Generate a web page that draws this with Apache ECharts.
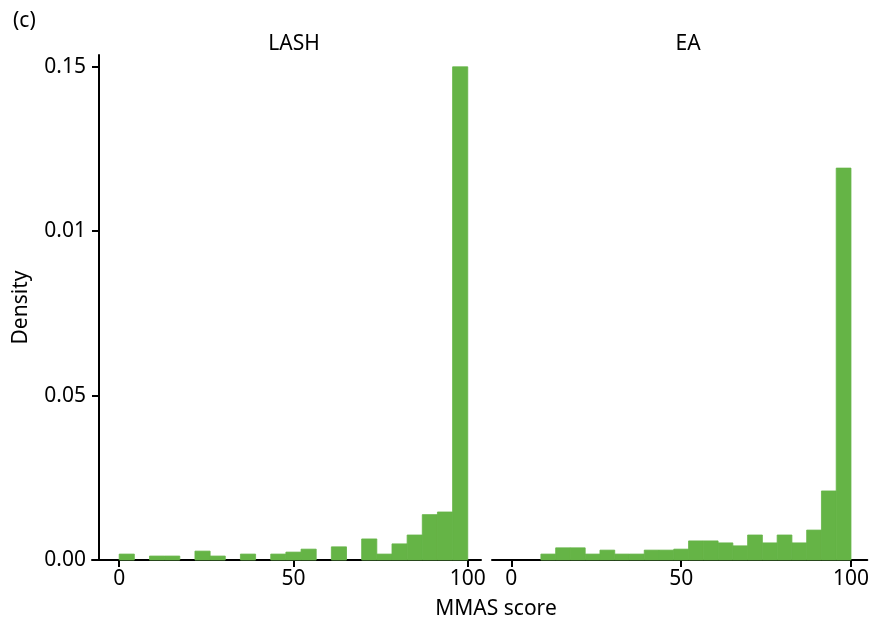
<!DOCTYPE html>
<html>
<head>
<meta charset="utf-8">
<script src="https://cdn.jsdelivr.net/npm/echarts@6/dist/echarts.min.js"></script>
<style>
  html, body { margin: 0; padding: 0; background: #fff; }
  #chart { width: 872px; height: 626px; }
</style>
</head>
<body>
<div id="chart"></div>
<script>
// histogram bins: 23 bins of equal width across 0-100
const binCount = 23;
const binWidth = 100 / binCount;

// density per bin
const lashDensity = [0.0018, 0, 0.0012, 0.0012, 0, 0.0027, 0.0012, 0, 0.0018, 0, 0.0018, 0.0024,
  0.0033, 0, 0.0040, 0, 0.0064, 0.0018, 0.0049, 0.0076, 0.0138, 0.0146, 0.150];
const eaDensity = [0, 0, 0.0018, 0.0037, 0.0037, 0.0018, 0.0030, 0.0018, 0.0018, 0.0030, 0.0030, 0.0033,
  0.0058, 0.0058, 0.0052, 0.0043, 0.0076, 0.0052, 0.0076, 0.0052, 0.0091, 0.0210, 0.1192];

const panelTitles = ['LASH', 'EA'];
const xTicks = [0, 50, 100];
const yTicks = [0, 0.05, 0.10, 0.15];
const yTickLabels = ['0.00', '0.05', '0.01', '0.15']; // as printed in the original

const barColor = '#65b446';
const font = 'Noto Sans';
const fs = 21;

const toBins = (vals) => vals.map((v, i) => [i * binWidth, (i + 1) * binWidth, v]);

const renderBin = (params, api) => {
  const h = api.value(2);
  if (!h) return null;
  const p0 = api.coord([api.value(0), h]);
  const p1 = api.coord([api.value(1), 0]);
  return {
    type: 'rect',
    shape: { x: p0[0], y: p0[1], width: p1[0] - p0[0], height: p1[1] - p0[1] },
    style: { fill: barColor, stroke: barColor, lineWidth: 0.8 }
  };
};

const xLine = { show: true, lineStyle: { color: '#000', width: 2 } };
const tickStyle = { color: '#000', width: 2 };
const titleStyle = { fontFamily: font, fontSize: fs, fontWeight: 'normal', color: '#000' };

const chart = echarts.init(document.getElementById('chart'));
chart.setOption({
  animation: false,
  title: [
    { text: '(c)', left: 8, top: 6, textStyle: titleStyle },
    { text: panelTitles[0], left: 289, top: 29, textAlign: 'center', textStyle: titleStyle },
    { text: panelTitles[1], left: 683, top: 29, textAlign: 'center', textStyle: titleStyle },
    { text: 'MMAS score', left: 491, top: 594, textAlign: 'center', textStyle: titleStyle }
  ],
  grid: [
    { left: 92, right: 391, top: 55, bottom: 66 },
    { left: 492, right: 4, top: 55, bottom: 66 }
  ],
  xAxis: [
    {
      gridIndex: 0, type: 'value', min: -7.8, max: 103.8,
      axisLine: xLine,
      axisTick: { show: true, length: 7, customValues: xTicks, lineStyle: tickStyle },
      axisLabel: { customValues: xTicks, color: '#000', fontFamily: font, fontSize: fs, margin: 9 },
      splitLine: { show: false }
    },
    {
      gridIndex: 1, type: 'value', min: -5.7, max: 104.8,
      axisLine: xLine,
      axisTick: { show: true, length: 7, customValues: xTicks, lineStyle: tickStyle },
      axisLabel: { customValues: xTicks, color: '#000', fontFamily: font, fontSize: fs, margin: 9 },
      splitLine: { show: false }
    }
  ],
  yAxis: [
    {
      gridIndex: 0, type: 'value', min: 0, max: 0.1536, offset: -7,
      name: 'Density', nameLocation: 'middle', nameRotate: 90, nameGap: 67,
      nameTextStyle: { fontFamily: font, fontSize: fs, color: '#000' },
      axisLine: { show: true, onZero: false, lineStyle: { color: '#000', width: 2 } },
      axisTick: { show: true, length: 7, customValues: yTicks, lineStyle: tickStyle },
      axisLabel: {
        customValues: yTicks, color: '#000', fontFamily: font, fontSize: fs, margin: 13,
        formatter: (v) => {
          const i = yTicks.findIndex(t => Math.abs(t - v) < 1e-9);
          return i < 0 ? '' : yTickLabels[i];
        }
      },
      splitLine: { show: false }
    },
    {
      gridIndex: 1, type: 'value', min: 0, max: 0.1536,
      axisLine: { show: false }, axisTick: { show: false }, axisLabel: { show: false },
      splitLine: { show: false }
    }
  ],
  series: [
    {
      name: panelTitles[0], type: 'custom', xAxisIndex: 0, yAxisIndex: 0,
      renderItem: renderBin, encode: { x: [0, 1], y: 2 }, data: toBins(lashDensity), z: 1
    },
    {
      name: panelTitles[1], type: 'custom', xAxisIndex: 1, yAxisIndex: 1,
      renderItem: renderBin, encode: { x: [0, 1], y: 2 }, data: toBins(eaDensity), z: 1
    }
  ]
});
</script>
</body>
</html>
